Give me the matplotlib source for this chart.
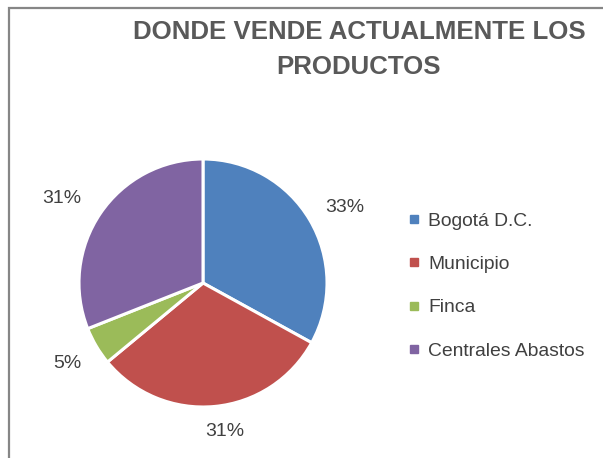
import matplotlib
matplotlib.use("Agg")
import numpy as np
import matplotlib.pyplot as plt
from matplotlib.lines import Line2D
from matplotlib.patches import Rectangle

# data
categories = ["Bogotá D.C.", "Municipio", "Finca", "Centrales Abastos"]
shares = [33, 31, 5, 31]
colors = ["#4F81BD", "#C0504D", "#9BBB59", "#8064A2"]
title_lines = ["DONDE VENDE ACTUALMENTE LOS", "PRODUCTOS"]

plt.rcParams['font.family'] = ['Liberation Sans Narrow', 'Liberation Sans', 'DejaVu Sans']

W, H = 603, 458
fig = plt.figure(figsize=(W / 100, H / 100), dpi=100)

# outer frame (only top and left visible in the crop)
fig.patches.append(Rectangle((8.5 / W, -0.1), 1.2, 1 - 7.5 / H + 0.1,
                             transform=fig.transFigure, fill=False,
                             edgecolor="#868686", linewidth=1.6))

cx, cy, r = 203, 283, 124
ax = fig.add_axes([(cx - r) / W, (H - cy - r) / H, 2 * r / W, 2 * r / H])
wedges, texts = ax.pie(shares, colors=colors, startangle=90, counterclock=False,
                       labels=[f"{v}%" for v in shares], labeldistance=1.28,
                       wedgeprops=dict(edgecolor="white", linewidth=2.2),
                       textprops=dict(color="#404040", fontsize=14))
# excel-like best fit placement of the data labels
label_dist = [1.30, 1.21, 1.27, 1.33]
label_nudge = [-2.5, 3.0, 0.0, 3.2]
for w, t, d, n in zip(wedges, texts, label_dist, label_nudge):
    a = np.deg2rad((w.theta1 + w.theta2) / 2 + n)
    t.set_position((d * np.cos(a), d * np.sin(a)))
    t.set_ha("center")
    t.set_va("center")
ax.set_xlim(-1, 1)
ax.set_ylim(-1, 1)
ax.set_aspect("equal")

for i, line in enumerate(title_lines):
    fig.text(359 / W, 1 - (32 + 35 * i) / H, line, ha="center", va="center",
             fontsize=18.6, fontweight="bold", color="#595959")

handles = [Line2D([], [], marker="s", linestyle="none", markersize=6,
                  markerfacecolor=c, markeredgecolor=c) for c in colors]
fig.legend(handles, categories, loc="center left",
           bbox_to_anchor=(391 / W, 1 - 286 / H), frameon=False,
           fontsize=13.9, labelcolor="#404040", handlelength=0.6,
           handletextpad=0.42, labelspacing=1.33)

fig.savefig("out.png", dpi=100)
